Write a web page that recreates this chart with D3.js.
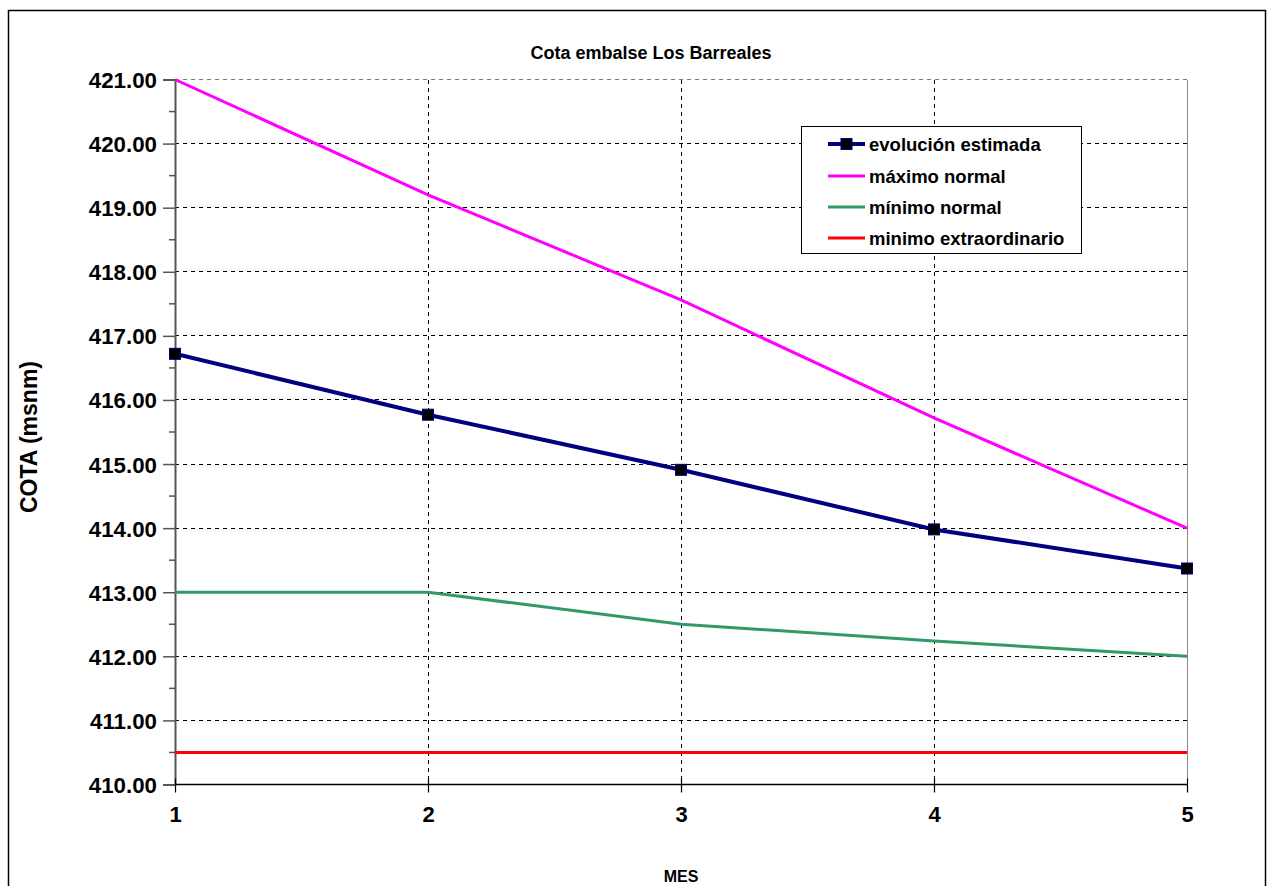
<!DOCTYPE html>
<html><head><meta charset="utf-8">
<script src="https://cdn.jsdelivr.net/npm/d3@7"></script>
<style>body{margin:0;background:#fff}svg{display:block}text{font-family:"Liberation Sans",Arial,sans-serif;font-weight:bold;fill:#000}</style>
</head><body>
<svg id="c" width="1268" height="886"></svg>
<script>
const months = [1, 2, 3, 4, 5];
const evolucion = [416.72, 415.77, 414.91, 413.98, 413.37];
const maximoNormal = [421.0, 419.2, 417.56, 415.72, 414.0];
const minimoNormal = [413.0, 413.0, 412.5, 412.24, 412.0];
const minimoExtra = [410.5, 410.5, 410.5, 410.5, 410.5];
const yTicks = [410, 411, 412, 413, 414, 415, 416, 417, 418, 419, 420, 421];
const legendLabels = ["evolución estimada", "máximo normal", "mínimo normal", "minimo extraordinario"];

const svg = d3.select("#c");
const L = 175, R = 1187, T = 79.5, B = 784.5;
const x = d3.scaleLinear().domain([1, 5]).range([L, R]);
const y = d3.scaleLinear().domain([410, 421]).range([B, T]);

// outer border
svg.append("rect").attr("x", 8.5).attr("y", 10.5).attr("width", 1257).attr("height", 900)
  .attr("fill", "none").attr("stroke", "#000").attr("stroke-width", 1.5);

// title
svg.append("text").attr("x", 651).attr("y", 59).attr("text-anchor", "middle")
  .style("font-size", "18px").text("Cota embalse Los Barreales");

// horizontal grid
svg.append("g").selectAll("line").data(yTicks.filter(d => d > 410)).join("line")
  .attr("x1", L).attr("x2", R).attr("y1", d => y(d)).attr("y2", d => y(d))
  .attr("stroke", d => d === 421 ? "#777" : "#000").attr("stroke-width", 1)
  .attr("stroke-dasharray", "4,4").attr("shape-rendering", "crispEdges");
// vertical grid
svg.append("g").selectAll("line").data([2, 3, 4]).join("line")
  .attr("x1", d => x(d)).attr("x2", d => x(d)).attr("y1", T).attr("y2", B)
  .attr("stroke", "#000").attr("stroke-width", 1)
  .attr("stroke-dasharray", "4,4").attr("shape-rendering", "crispEdges");
// right plot border
svg.append("line").attr("x1", R).attr("x2", R).attr("y1", T).attr("y2", B)
  .attr("stroke", "#888").attr("stroke-width", 1).attr("shape-rendering", "crispEdges");

// y axis
const yAxis = d3.axisLeft(y).tickValues(yTicks).tickFormat(d3.format(".2f")).tickSize(12).tickPadding(6);
const gy = svg.append("g").attr("transform", `translate(${L},0)`).call(yAxis);
gy.select(".domain").attr("stroke", "#555").attr("stroke-width", 2);
gy.selectAll(".tick line").attr("stroke", "#555").attr("stroke-width", 1.5);
gy.selectAll(".tick text").style("font-size", "22.3px").attr("fill", "#000").attr("dy", "0.36em");
// minor ticks
svg.append("g").selectAll("line").data(d3.range(410.5, 421, 1)).join("line")
  .attr("x1", L - 6).attr("x2", L).attr("y1", d => y(d)).attr("y2", d => y(d))
  .attr("stroke", "#555").attr("stroke-width", 1.5);

// x axis
const xAxis = d3.axisBottom(x).tickValues(months).tickFormat(d3.format("d")).tickSize(8).tickPadding(14);
const gx = svg.append("g").attr("transform", `translate(0,${B})`).call(xAxis);
gx.select(".domain").attr("stroke", "#000").attr("stroke-width", 1.5).attr("d", `M${L},0H${R}`);
gx.selectAll(".tick line").attr("stroke", "#000").attr("stroke-width", 1.2).attr("y1", -6);
gx.selectAll(".tick text").style("font-size", "22px").attr("fill", "#000");

// axis titles
svg.append("text").attr("transform", "translate(37,437) rotate(-90)").attr("text-anchor", "middle")
  .style("font-size", "23px").text("COTA (msnm)");
svg.append("text").attr("x", 681).attr("y", 882).attr("text-anchor", "middle")
  .style("font-size", "16px").text("MES");

// lines
const line = d3.line().x((d, i) => x(months[i])).y(d => y(d));
const series = [
  {v: minimoExtra, c: "#FF0000", w: 3},
  {v: minimoNormal, c: "#339966", w: 3},
  {v: maximoNormal, c: "#FF00FF", w: 3},
  {v: evolucion, c: "#000080", w: 4}
];
series.forEach(s => svg.append("path").datum(s.v).attr("d", line)
  .attr("fill", "none").attr("stroke", s.c).attr("stroke-width", s.w));
// markers
svg.append("g").selectAll("rect").data(evolucion).join("rect")
  .attr("x", (d, i) => x(months[i]) - 5.5).attr("y", d => y(d) - 5.5)
  .attr("width", 11).attr("height", 11).attr("fill", "#000").attr("stroke", "#000080").attr("stroke-width", 1);

// legend
const lg = svg.append("g");
lg.append("rect").attr("x", 801.5).attr("y", 126.5).attr("width", 280).attr("height", 127)
  .attr("fill", "#fff").attr("stroke", "#000").attr("stroke-width", 1);
const legColors = ["#000080", "#FF00FF", "#339966", "#FF0000"];
const legY = [144, 176, 207, 238];
legendLabels.forEach((t, i) => {
  lg.append("line").attr("x1", 828).attr("x2", 865).attr("y1", legY[i]).attr("y2", legY[i])
    .attr("stroke", legColors[i]).attr("stroke-width", i === 0 ? 4 : 3);
  if (i === 0) lg.append("rect").attr("x", 841).attr("y", legY[i] - 5.5).attr("width", 11).attr("height", 11)
    .attr("fill", "#000").attr("stroke", "#000080");
  lg.append("text").attr("x", 869).attr("y", legY[i]).attr("dy", "0.36em")
    .style("font-size", "18.5px").text(t);
});
</script>
</body></html>
